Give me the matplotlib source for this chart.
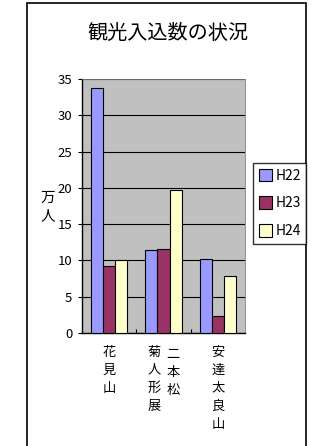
import numpy as np
import matplotlib
matplotlib.use("Agg")
import matplotlib.pyplot as plt
from matplotlib.patches import Rectangle, Patch

plt.rcParams['font.family'] = ['Noto Sans CJK JP', 'DejaVu Sans']

# データ（万人）
categories = ["花\n見\n山", "菊\n人\n形\n展", "安\n達\n太\n良\n山"]
series_names = ["H22", "H23", "H24"]
h22 = [33.8, 11.4, 10.2]
h23 = [9.3, 11.6, 2.3]
h24 = [10.0, 19.7, 7.8]
colors = ["#9999FF", "#993366", "#FFFFCC"]
yticks = [0, 5, 10, 15, 20, 25, 30, 35]

W, H = 316, 446
fig = plt.figure(figsize=(W / 100, H / 100), dpi=100)

# 外枠
fig.patches.append(Rectangle((27 / W, -0.05), 279 / W, 1.05 - 3 / H,
                             transform=fig.transFigure, fill=False,
                             edgecolor="black", linewidth=1.2))

ax = fig.add_axes([82 / W, (H - 333) / H, 163 / W, 254 / H])
ax.set_facecolor("#C0C0C0")

x = np.arange(len(categories))
bw = 1 / 4.5
for i, (vals, c, name) in enumerate(zip([h22, h23, h24], colors, series_names)):
    ax.bar(x + (i - 1) * bw, vals, width=bw, color=c, edgecolor="black",
           linewidth=0.8, label=name, zorder=3)

ax.set_xlim(-0.5, 2.5)
ax.set_ylim(0, 35)
ax.set_yticks(yticks)
ax.set_yticklabels([str(v) for v in yticks], fontsize=9.5)
ax.yaxis.grid(True, color="black", linewidth=0.8, zorder=1)
ax.set_axisbelow(True)
ax.set_xticks([0.5, 1.5])
ax.set_xticklabels([])
ax.tick_params(axis="x", direction="in", length=3, width=0.8)
ax.tick_params(axis="y", direction="out", length=3, width=0.8, pad=4)
for s in ["top", "right"]:
    ax.spines[s].set_color("#808080")
    ax.spines[s].set_linewidth(0.6)
ax.spines["left"].set_linewidth(1.0)
ax.spines["bottom"].set_linewidth(1.0)

# カテゴリラベル（縦書き）
ls = 1.5
fs = 9.5
tr = ax.get_xaxis_transform()
ax.text(0, -0.05, categories[0], transform=tr,
        ha="center", va="top", fontsize=fs, linespacing=ls)
ax.text(0.83, -0.05, categories[1], transform=tr,
        ha="center", va="top", fontsize=fs, linespacing=ls)
ax.text(1.17, -0.06, "二\n本\n松", transform=tr,
        ha="center", va="top", fontsize=fs, linespacing=ls)
ax.text(2, -0.05, categories[2], transform=tr,
        ha="center", va="top", fontsize=fs, linespacing=ls)

fig.text(48 / W, 1 - 207 / H, "万\n人", ha="center", va="center",
         fontsize=10.5, linespacing=1.4)

fig.text(168 / W, 1 - 33 / H, "観光入込数の状況", ha="center", va="center",
         fontsize=14.5)

handles = [Patch(facecolor=c, edgecolor="black", linewidth=0.8) for c in colors]
leg = fig.legend(handles, series_names, loc="upper left",
                 bbox_to_anchor=(253 / W, 1 - 163 / H), fontsize=10,
                 frameon=True, fancybox=False, edgecolor="black",
                 handlelength=1.0, handleheight=1.0, handletextpad=0.2,
                 labelspacing=1.0, borderpad=0.4, borderaxespad=0)
leg.get_frame().set_linewidth(1.0)

fig.savefig("out.png", dpi=100)
